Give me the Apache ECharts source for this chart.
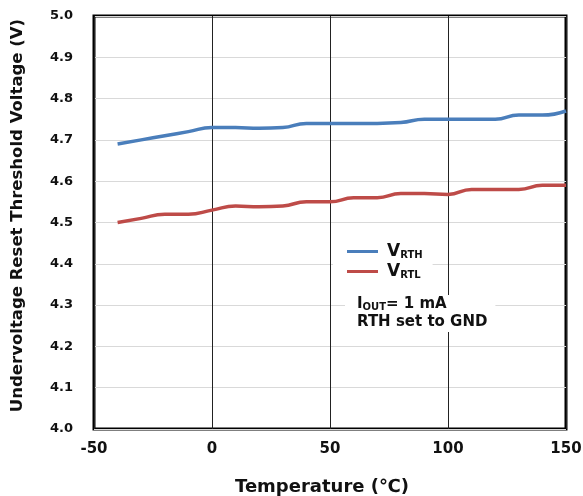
<!DOCTYPE html>
<html><head><meta charset="utf-8">
<script src="https://cdn.jsdelivr.net/npm/echarts@6/dist/echarts.min.js"></script>
<style>html,body{margin:0;padding:0;background:#fff}#c{width:583px;height:496px}</style>
</head><body><div id="c"></div>
<script>
const temps = [-40,-30,-20,-10,0,10,20,30,40,50,60,70,80,90,100,110,120,130,140,150];
const vrth = [4.69,4.70,4.71,4.72,4.73,4.73,4.728,4.73,4.74,4.74,4.74,4.74,4.742,4.75,4.75,4.75,4.75,4.76,4.76,4.77];
const vrtl = [4.50,4.51,4.52,4.52,4.53,4.54,4.538,4.54,4.55,4.55,4.56,4.56,4.57,4.57,4.568,4.58,4.58,4.58,4.59,4.59];
const xTicks = [-50,0,50,100,150];
const yTicks = [4.0,4.1,4.2,4.3,4.4,4.5,4.6,4.7,4.8,4.9,5.0];
const F = '"DejaVu Sans", "Noto Sans CJK KR", sans-serif';
const chart = echarts.init(document.getElementById('c'));
chart.setOption({
  animation:false,
  grid:{left:94,right:17,top:16,bottom:67,outerBoundsMode:'none',containLabel:false,show:true,borderColor:'#000',borderWidth:3,backgroundColor:'transparent'},
  xAxis:{type:'value',min:xTicks[0],max:xTicks[xTicks.length-1],interval:50,
    name:'Temperature (℃)',nameLocation:'middle',nameGap:49,
    nameTextStyle:{fontFamily:F,fontWeight:'bold',fontSize:18,color:'#111',padding:[0,16,0,0]},
    axisLine:{show:false},axisTick:{show:false},
    axisLabel:{fontFamily:F,fontWeight:'bold',fontSize:15,color:'#111',margin:13},
    splitLine:{show:true,lineStyle:{color:'#222',width:1}}},
  yAxis:{type:'value',min:yTicks[0],max:yTicks[yTicks.length-1],interval:0.1,
    name:'Undervoltage Reset Threshold Voltage (V)',nameLocation:'middle',nameGap:68,
    nameTextStyle:{fontFamily:F,fontWeight:'bold',fontSize:16.5,color:'#111',padding:[0,0,0,14]},
    axisLine:{show:false},axisTick:{show:false},
    axisLabel:{fontFamily:F,fontWeight:'bold',fontSize:13,color:'#111',margin:21,formatter:v=>v.toFixed(1)},
    splitLine:{show:true,lineStyle:{color:'#d9d9d9',width:1}}},
  legend:{orient:'vertical',left:333,top:241,itemWidth:31,itemHeight:3,itemGap:3,
    backgroundColor:'#fff',padding:[2,10,4,14],icon:'rect',
    data:['VRTH','VRTL'],
    formatter:n=>'{v|V}{s|'+n.slice(1)+'}',
    textStyle:{padding:[0,0,0,4],rich:{v:{fontFamily:F,fontWeight:'bold',fontSize:17,color:'#111'},
      s:{fontFamily:F,fontWeight:'bold',fontSize:10,color:'#111',padding:[7,0,0,0]}}}},
  graphic:[{type:'text',left:345,top:295,z:100,
    style:{rich:{a:{fontFamily:F,fontWeight:'bold',fontSize:15,fill:'#111'},
      b:{fontFamily:F,fontWeight:'bold',fontSize:10,fill:'#111',padding:[7,0,0,0]}},
      text:'{a|I}{b|OUT}{a|= 1 mA}\n{a|RTH set to GND}',
      backgroundColor:'#fff',padding:[0,8,1,12],lineHeight:18}}],
  series:[
    {name:'VRTH',type:'line',smooth:0.5,showSymbol:false,data:temps.map((t,i)=>[t,vrth[i]]),
      lineStyle:{color:'#4a7ebb',width:3.5},itemStyle:{color:'#4a7ebb'}},
    {name:'VRTL',type:'line',smooth:0.5,showSymbol:false,data:temps.map((t,i)=>[t,vrtl[i]]),
      lineStyle:{color:'#be4b48',width:3.5},itemStyle:{color:'#be4b48'}}
  ]
});
</script></body></html>
